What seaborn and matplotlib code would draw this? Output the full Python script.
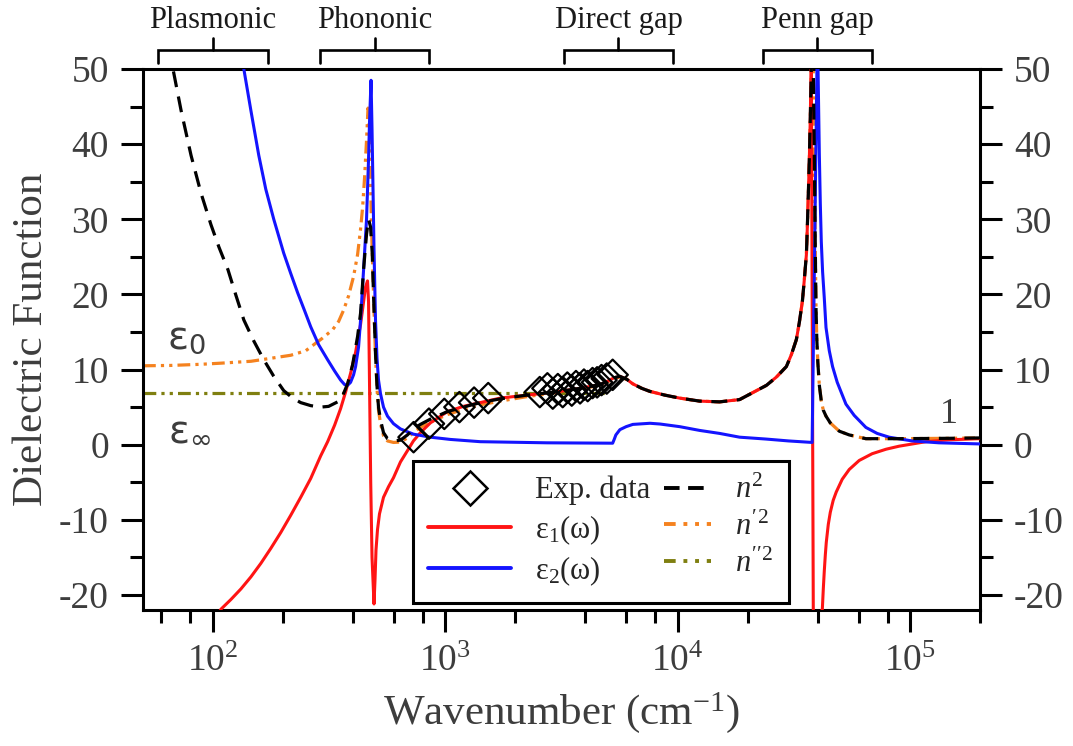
import matplotlib
matplotlib.use("Agg")
import matplotlib.pyplot as plt
import numpy as np
import pandas as pd
import seaborn as sns
from matplotlib.lines import Line2D
from matplotlib.legend_handler import HandlerLine2D
from matplotlib.ticker import FixedLocator, LogLocator, MultipleLocator, NullFormatter

# ---------------------------------------------------------------- data
# (wavenumber in cm^-1, value)
eps1 = [(105.1, -22.6), (108.2, -21.9), (119.5, -20.6), (131.9, -19.2), (145.6, -17.6),
        (160.7, -15.8), (177.4, -13.8), (195.7, -11.7), (216.1, -9.4), (238.6, -7.0),
        (263.4, -4.5), (290.7, -1.5), (311.6, 0.4), (333.9, 2.6), (354.3, 4.8), (372.2, 7.0),
        (391.1, 9.5), (411.0, 12.3), (431.8, 16.0), (444.8, 19.0), (453.7, 21.0), (462.6, 21.8),
        (467.3, 19.0), (471.9, 8.0), (477.5, -5.0), (483.7, -15.0), (493.3, -21.2), (498.2, -18.0),
        (503.2, -14.0), (510.7, -11.3), (520.9, -9.2), (542.0, -7.0), (569.4, -5.6), (598.3, -4.4),
        (641.1, -2.3), (687.0, -0.8), (729.0, 0.5), (781.1, 1.6), (862.3, 2.9), (1020, 4.4),
        (1195, 5.1), (1413, 5.6), (1722, 6.2), (2249, 6.6), (2966, 7.0), (3796, 7.5), (4627, 8.0),
        (4958, 8.4), (5313, 8.9), (5638, 9.1), (6041, 8.7), (6410, 8.1), (7006, 7.5), (7584, 7.1),
        (8795, 6.6), (10200, 6.2), (12430, 5.8), (15150, 5.7), (18460, 6.0), (20370, 6.7),
        (24100, 7.9), (26600, 9.0), (29360, 10.4), (30860, 12.0), (32420, 14.0), (33390, 16.3),
        (34410, 19.1), (35080, 22.0), (35800, 25.3), (36140, 29.0), (36500, 33.4), (36860, 38.0),
        (37220, 43.6), (37590, 51.0), (38340, -23.0), (41910, -22.0), (42330, -19.2),
        (42750, -16.8), (43180, -14.7), (43600, -13.0), (44480, -10.6), (45370, -9.0),
        (46700, -7.4), (48120, -6.3), (51060, -4.6), (54730, -3.3), (60410, -2.1), (68690, -1.2),
        (78890, -0.6), (89700, -0.2), (117100, 0.4), (147000, 0.65), (200000, 0.8)]

eps2 = [(128, 57.0), (135.8, 50.0), (145.6, 44.5), (157.5, 38.5), (168.8, 34.0), (182.7, 30.0),
        (201.6, 25.5), (216.1, 22.8), (231.6, 20.2), (248.2, 17.8), (263.4, 15.7), (285.1, 13.3),
        (311.6, 11.3), (333.9, 9.8), (354.3, 8.6), (368.6, 8.0), (379.6, 7.9), (391.1, 8.3),
        (402.9, 9.3), (411.0, 10.4), (423.3, 13.0), (431.8, 16.6), (440.4, 21.0), (449.2, 25.5),
        (458.1, 30.0), (467.3, 38.0), (471.9, 43.0), (479.0, 48.5), (483.7, 42.0), (488.5, 34.0),
        (493.3, 26.0), (500.7, 16.6), (508.2, 11.5), (515.8, 8.6), (526.0, 6.8), (542.0, 5.0),
        (563.8, 3.8), (598.3, 2.8), (641.1, 2.1), (729.0, 1.4), (862.3, 1.0), (1051, 0.7),
        (1413, 0.4), (2740, 0.25), (5250, 0.2), (5330, 0.7), (5420, 1.3), (5640, 2.0), (6000, 2.4),
        (6410, 2.7), (7600, 2.85), (8400, 2.75), (10200, 2.4), (12430, 1.9), (15150, 1.5),
        (18460, 1.0), (24000, 0.75), (30000, 0.5), (37900, 0.3), (40050, 58.0), (40180, 50.0),
        (40500, 43.0), (40700, 38.6), (41100, 32.0), (41500, 27.0), (42040, 23.0), (42750, 19.5),
        (43480, 15.6), (44920, 12.5), (46400, 10.4), (48600, 8.3), (52970, 5.4), (57500, 3.9),
        (64550, 2.3), (72170, 1.5), (81260, 1.0), (102000, 0.5), (133200, 0.25), (200000, 0.1)]

n_sq = [(64, 53.0), (67.3, 50.0), (72.9, 44.5), (80.5, 38.5), (88.8, 33.5), (98.0, 29.3),
        (106.1, 26.3), (116.0, 23.3), (125.5, 19.9), (135.8, 16.6), (149.9, 13.8), (165.5, 11.3),
        (182.7, 9.1), (201.6, 7.2), (220.5, 6.2), (238.6, 5.6), (263.4, 5.2), (290.7, 5.0),
        (314.6, 5.1), (344.0, 5.7), (361.5, 6.5), (379.6, 8.1), (398.8, 10.6), (419.2, 14.4),
        (431.8, 17.5), (444.8, 23.3), (458.1, 28.0), (467.3, 30.0), (476.6, 29.0), (484.7, 25.5),
        (490.9, 20.0), (500.7, 12.1), (508.2, 7.8), (515.8, 5.0), (526.0, 3.3), (542.0, 1.6),
        (563.8, 0.8), (598.3, 0.5), (641.1, 0.6), (687.0, 1.3), (729.0, 2.1), (781.1, 2.7),
        (862.3, 3.4), (1020, 4.4), (1195, 5.0), (1413, 5.6), (1722, 6.1), (2249, 6.6), (2966, 7.0),
        (3796, 7.5), (4627, 8.0), (4958, 8.4), (5313, 8.9), (5638, 9.1), (6041, 8.7), (6410, 8.1),
        (7006, 7.5), (7584, 7.1), (8795, 6.6), (10200, 6.2), (12430, 5.8), (15150, 5.7),
        (18460, 6.0), (20370, 6.7), (24100, 7.9), (26600, 9.0), (29360, 10.4), (30860, 12.0),
        (32420, 14.0), (33390, 16.3), (34410, 19.1), (35080, 22.0), (35800, 25.3), (36140, 29.0),
        (36500, 33.4), (36860, 38.0), (37220, 43.6), (37590, 50.0), (37960, 56.0), (38340, 50.0),
        (38720, 38.6), (39100, 26.0), (39390, 18.0), (39700, 14.0), (40090, 11.0), (40700, 7.9),
        (41500, 5.8), (42330, 4.6), (43480, 3.8), (45370, 2.9), (49580, 1.8), (54730, 1.3),
        (64550, 0.8), (89700, 0.8), (147000, 0.85), (200000, 0.9)]

n1_sq = [(50, 10.5), (66.1, 10.55), (88.8, 10.7), (108.2, 10.85), (145.6, 11.1), (177.4, 11.5),
         (216.1, 11.9), (250.7, 12.5), (271.3, 13.3), (296.6, 14.2), (327.3, 15.3), (347.4, 16.4),
         (364.9, 17.9), (383.4, 19.8), (402.9, 22.4), (419.2, 25.3), (431.8, 28.7), (440.4, 31.5),
         (449.2, 35.5), (458.1, 40.5), (464.9, 44.8), (471.9, 42.0), (476.6, 35.0), (481.3, 29.0),
         (486.1, 24.5), (490.9, 20.0), (500.7, 11.8), (508.2, 7.5), (515.8, 4.6), (526.0, 2.8),
         (542.0, 1.2), (563.8, 0.5), (598.3, 0.3), (641.1, 0.35), (687.0, 0.9), (729.0, 1.6),
         (781.1, 2.3), (862.3, 3.0), (1020, 4.0), (1195, 4.7), (1413, 5.3), (1722, 5.8),
         (2249, 6.4), (2966, 6.9), (3796, 7.4), (4627, 7.9), (4958, 8.3), (5313, 8.8), (5638, 9.0),
         (6041, 8.7), (6410, 8.1), (7006, 7.5), (7584, 7.1), (8795, 6.6), (10200, 6.2),
         (12430, 5.8), (15150, 5.7), (18460, 6.0), (20370, 6.7), (24100, 7.9), (26600, 9.0),
         (29360, 10.4), (30860, 12.0), (32420, 14.0), (33390, 16.3), (34410, 19.1), (35080, 22.0),
         (35800, 25.3), (36140, 29.0), (36500, 33.4), (36860, 38.0), (37220, 43.6), (37590, 50.0),
         (37960, 56.0), (38340, 50.0), (38720, 38.6), (39100, 26.0), (39390, 18.0), (39700, 14.0),
         (40090, 11.0), (40700, 7.9), (41500, 5.8), (42330, 4.6), (43480, 3.8), (45370, 2.9),
         (49580, 1.8), (54730, 1.3), (64550, 0.8), (89700, 0.8), (147000, 0.85), (200000, 0.9)]

n2_sq = [(50, 6.9), (5000, 6.9)]

exp_x = [730, 850, 990, 1150, 1330, 1530, 2550, 2750, 2900, 3050, 3200, 3350, 3500, 3650,
         3800, 3950, 4100, 4300, 4500, 4700, 4950, 5250]
exp_y = [1.0, 2.8, 4.1, 5.0, 5.6, 6.2, 7.0, 7.5, 6.8, 7.4, 7.0, 7.6, 7.2, 7.8,
         7.5, 8.0, 7.8, 8.2, 8.3, 8.6, 8.8, 9.3]

region_names = ["Plasmonic", "Phononic", "Direct gap", "Penn gap"]
region_spans = [(58, 172), (290, 850), (3240, 9550), (23200, 68700)]

x_major = [1e2, 1e3, 1e4, 1e5]
y_major = [-20, -10, 0, 10, 20, 30, 40, 50]

# ---------------------------------------------------------------- style
sns.set_theme(style="ticks")
plt.rcParams.update({
    "font.family": ["Liberation Serif", "DejaVu Serif"],
    "mathtext.fontset": "custom",
    "mathtext.rm": "Liberation Serif",
    "mathtext.it": "Liberation Serif:italic",
    "mathtext.sf": "DejaVu Sans",
    "axes.unicode_minus": False,
    "axes.linewidth": 2.2,
})

RED, BLUE, BLACK = "#ff1414", "#1414ff", "#000000"
ORANGE, OLIVE = "#f5821f", "#7f7f10"
TXT = "#3d3d3d"

fig = plt.figure(figsize=(10.73, 7.46), dpi=100)
ax = fig.add_axes([0.13327, 0.18231, 0.78006, 0.72520])
ax.set_xscale("log")


def frame(pairs):
    return pd.DataFrame(pairs, columns=["w", "v"])


line_kw = dict(x="w", y="v", ax=ax, sort=False, estimator=None, legend=False)
ddot = (0, (4, 1.6, 1, 1.6, 1, 1.6))
sns.lineplot(data=frame(n2_sq), color=OLIVE, lw=2.3, linestyle=ddot, zorder=2, **line_kw)
sns.lineplot(data=frame(n1_sq), color=ORANGE, lw=2.3, linestyle=ddot, zorder=2, **line_kw)
sns.lineplot(data=frame(eps1), color=RED, lw=2.2, zorder=3, **line_kw)
sns.lineplot(data=frame(eps2), color=BLUE, lw=2.2, zorder=3, **line_kw)
sns.lineplot(data=frame(n_sq), color=BLACK, lw=2.3, linestyle=(0, (5, 3)), zorder=4, **line_kw)

sns.scatterplot(x=exp_x, y=exp_y, ax=ax, marker="D", s=240, facecolor="none",
                edgecolor="black", linewidth=1.6, zorder=5, legend=False)

ax.set_xlim(50, 2e5)
ax.set_ylim(-22, 50)

# ticks
ax.xaxis.set_major_locator(FixedLocator(x_major))
ax.xaxis.set_minor_locator(LogLocator(base=10, subs=(2, 4, 6, 8), numticks=20))
ax.xaxis.set_minor_formatter(NullFormatter())
ax.yaxis.set_major_locator(FixedLocator(y_major))
ax.yaxis.set_minor_locator(MultipleLocator(5))
ax.tick_params(which="both", direction="out", width=2.2, colors="black", labelcolor=TXT,
               top=False, right=True, labelright=True, labelsize=27)
ax.tick_params(which="major", length=15.5, pad=9)
ax.tick_params(which="minor", length=9.5)
for s in ax.spines.values():
    s.set_linewidth(2.2)
    s.set_color("black")

ax.set_xlabel("Wavenumber (cm$^{-1}$)", fontsize=31, color=TXT, labelpad=8)
ax.set_ylabel("Dielectric Function", fontsize=31, color=TXT, labelpad=6)

# region brackets above the plot
trans = ax.get_xaxis_transform()
for name, (lo, hi) in zip(region_names, region_spans):
    mid = np.sqrt(lo * hi)
    ax.plot([lo, lo, hi, hi], [1.011, 1.036, 1.036, 1.011], color="black", lw=1.9,
            transform=trans, clip_on=False, solid_joinstyle="miter")
    ax.plot([mid, mid], [1.036, 1.058], color="black", lw=1.9, transform=trans, clip_on=False)
    ax.text(mid, 1.076, name, transform=trans, ha="center", va="baseline",
            fontsize=22, color="#1a1a1a")

# limit annotations
ax.text(77, 14.1, r"$\mathsf{\varepsilon}_{\mathsf{0}}$", fontsize=28, color=TXT,
        ha="center", va="center")
ax.text(79, 1.8, r"$\mathsf{\varepsilon}_{\mathsf{\infty}}$", fontsize=28, color=TXT,
        ha="center", va="center")
ax.text(147000, 4.0, "1", fontsize=26, color=TXT, ha="center", va="center")


# legend
class ShortLine(HandlerLine2D):
    """Line handle drawn only over the right part of its slot."""

    def create_artists(self, legend, orig_handle, xdescent, ydescent, width, height, fontsize, trans):
        arts = super().create_artists(legend, orig_handle, xdescent, ydescent, width, height,
                                      fontsize, trans)
        for a in arts:
            xd = np.asarray(a.get_xdata(), dtype=float)
            if xd.size >= 2:
                x0, x1 = xd[0], xd[-1]
                a.set_xdata(np.linspace(x0 + 0.43 * (x1 - x0), x1, xd.size))
        return arts


h_exp = Line2D([], [], ls="none", marker="D", ms=17, mfc="none", mec="black", mew=1.8)
h_e1 = Line2D([], [], color=RED, lw=2.8)
h_e2 = Line2D([], [], color=BLUE, lw=2.8)
h_n = Line2D([], [], color=BLACK, lw=2.8, ls=(0, (4, 2.2)))
h_n1 = Line2D([], [], color=ORANGE, lw=2.8, ls=(0, (3, 2, 1, 2, 1, 2)))
h_n2 = Line2D([], [], color=OLIVE, lw=2.8, ls=(0, (3, 2, 1, 2, 1, 2)))
leg = ax.legend([h_exp, h_e1, h_e2, h_n, h_n1, h_n2],
                ["Exp. data", r"$\mathrm{\varepsilon_1(\omega)}$", r"$\mathrm{\varepsilon_2(\omega)}$",
                 r"$n^2$", r"$n'^2$", r"$n''^2$"],
                ncol=2, loc="lower left", bbox_to_anchor=(0.3226, 0.0129), borderaxespad=0,
                fontsize=22, handlelength=2.7, handletextpad=0.8, columnspacing=-0.72,
                labelspacing=0.25, borderpad=0.5, fancybox=False, framealpha=1,
                edgecolor="black",
                handler_map={h_n: ShortLine(), h_n1: ShortLine(), h_n2: ShortLine()})
leg.get_frame().set_linewidth(2.2)
leg.set_zorder(10)

fig.savefig("out.png", dpi=100)
